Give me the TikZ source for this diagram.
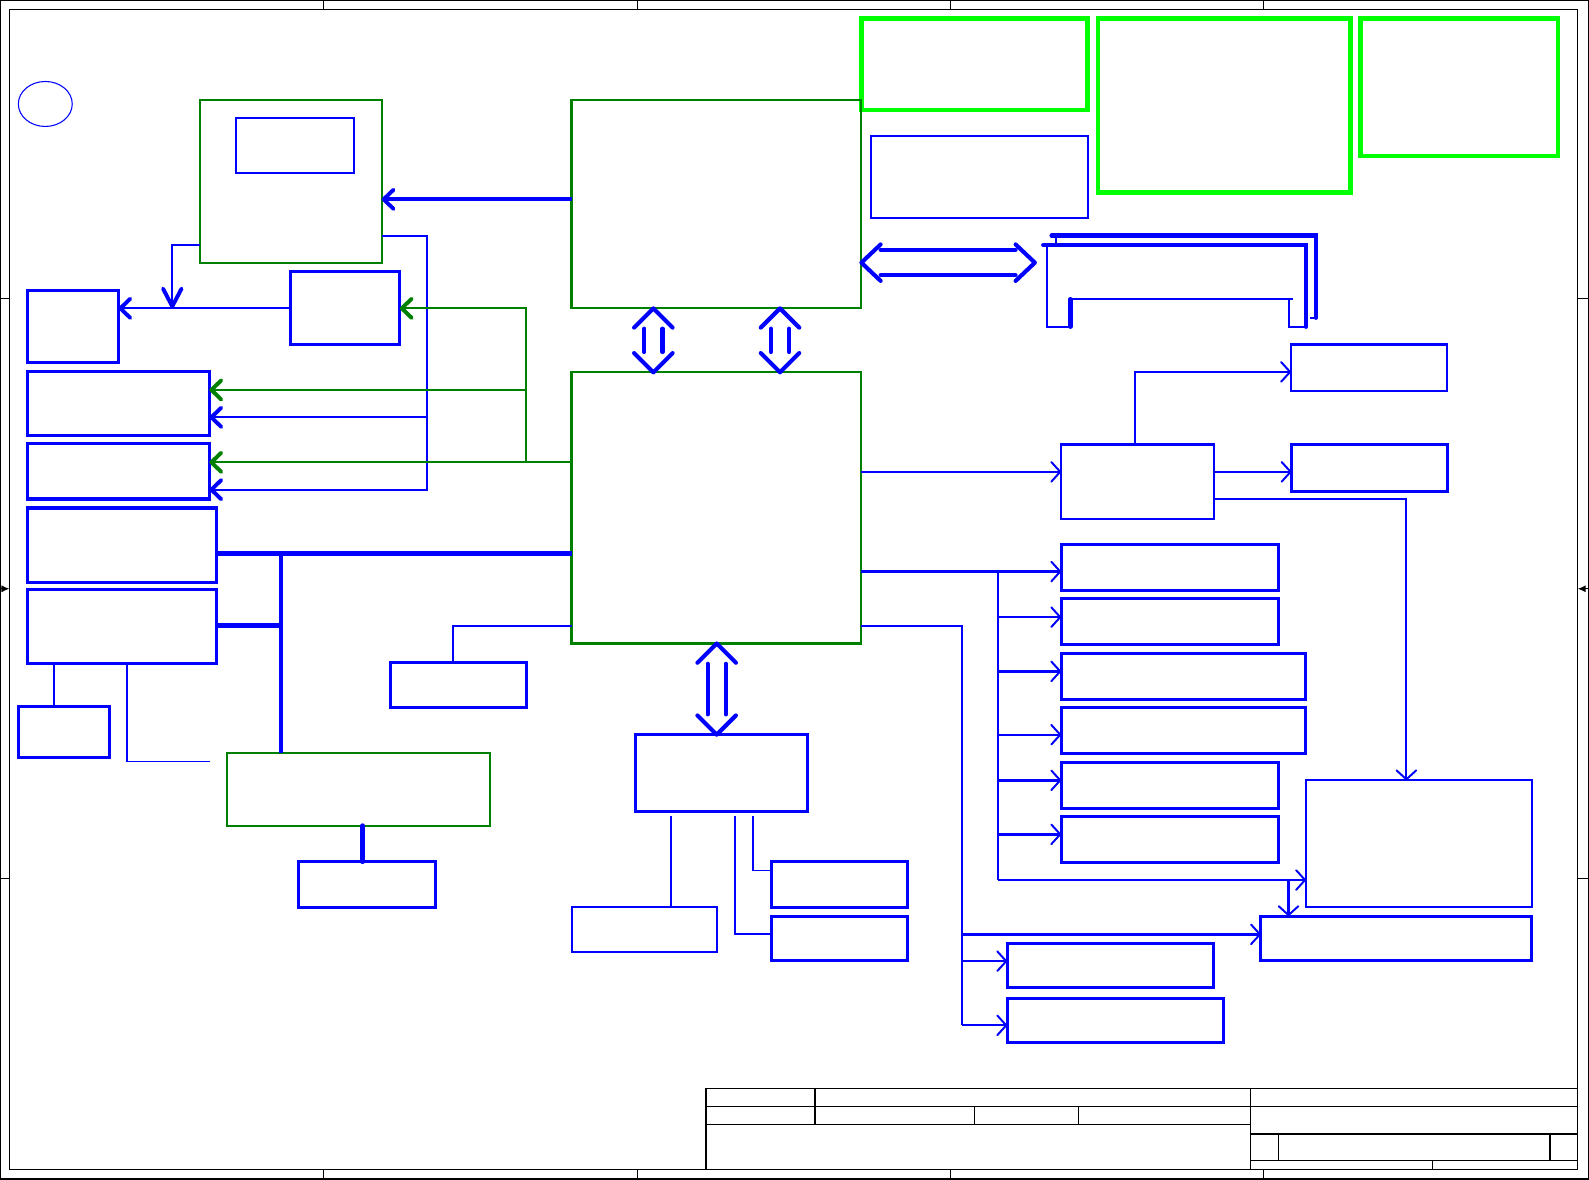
\documentclass[tikz,border=0pt]{standalone}
\usepackage{tikz}
\usetikzlibrary{arrows.meta,calc,fit}
\definecolor{netblue}{HTML}{0000FF}
\definecolor{chipgreen}{HTML}{008000}
\definecolor{notegreen}{HTML}{00FF00}

\tikzset{
  blk/.style={inner sep=0pt,outer sep=0pt},
  chip/.style={blk,draw=chipgreen,line width=0.6pt},
  note/.style={blk,draw=notegreen,line width=1.35pt},
  dev/.style={blk,draw=netblue,line width=0.85pt},
  devthin/.style={blk,draw=netblue,line width=0.6pt},
  wire/.style={netblue,line width=0.55pt},
  wirebold/.style={netblue,line width=0.85pt},
  gwire/.style={chipgreen,line width=0.6pt},
  bus/.style={netblue,line width=1.25pt},
  dbl/.style={netblue,line width=1.15pt,line cap=round,line join=round},
  frm/.style={black,line width=0.3pt},
  arw/.style={-{Straight Barb[length=2.5pt,width=5.5pt,line width=0.55pt,round]}},
  arwbig/.style={-{Straight Barb[length=2.8pt,width=5.4pt,line width=1.1pt,round]}},
  arwlong/.style={-{Straight Barb[length=5pt,width=5.2pt,line width=1.1pt,round]}},
}

% double-line bus arrows
\newcommand{\vdbl}[2]{%
  \draw[dbl] ($(#1)+(-19,19)$) -- (#1) -- ($(#1)+(19,19)$);
  \draw[dbl] ($(#2)+(-19,-19)$) -- (#2) -- ($(#2)+(19,-19)$);
  \draw[dbl] ($(#1)+(-9,20)$) -- ($(#2)+(-9,-20)$);
  \draw[dbl] ($(#1)+(9,20)$) -- ($(#2)+(9,-20)$);}
\newcommand{\hdbl}[2]{%
  \draw[dbl] ($(#1)+(19,-18)$) -- (#1) -- ($(#1)+(19,18)$);
  \draw[dbl] ($(#2)+(-19,-18)$) -- (#2) -- ($(#2)+(-19,18)$);
  \draw[dbl] ($(#1)+(19,-12.5)$) -- ($(#2)+(-19,-12.5)$);
  \draw[dbl] ($(#1)+(19,12.5)$) -- ($(#2)+(-19,12.5)$);}

\begin{document}
\begin{tikzpicture}[x=0.01cm,y=-0.01cm]
  \useasboundingbox (0,0) rectangle (1568,1164);

  % Sheet frame
  \draw[frm] (0.6,0.6) rectangle (1567.4,1163.4);
  \draw[frm] (9.2,9.2) rectangle (1557,1154.5);
  \foreach \x in {319,629,938,1247}{
    \draw[frm] (\x,0.6) -- (\x,9.2);
    \draw[frm] (\x,1154.5) -- (\x,1163.4);
  }
  \foreach \y in {295,867}{
    \draw[frm] (0.6,\y) -- (9.2,\y);
    \draw[frm] (1557,\y) -- (1567.4,\y);
  }
  \draw[frm,-{Latex[length=2.2pt,width=2pt]}] (0.6,581) -- (9.2,581);
  \draw[frm,-{Latex[length=2.2pt,width=2pt]}] (1567.4,581) -- (1557,581);

  % Title block
  \draw[frm] (696.7,1074) rectangle (1557,1154.5);
  \draw[frm] (696.7,1092) -- (1557,1092);
  \draw[frm] (696.7,1109.2) -- (1234.3,1109.2);
  \draw[frm] (804.2,1074) -- (804.2,1109.2);
  \draw[frm,line width=0.15pt] (961.5,1092) -- (961.5,1109.2);
  \draw[frm,line width=0.15pt] (1064,1092) -- (1064,1109.2);
  \draw[frm] (1234.3,1074) -- (1234.3,1154.5);
  \draw[frm] (1234.3,1119) -- (1557,1119);
  \draw[frm] (1234.3,1145.3) -- (1557,1145.3);
  \draw[frm] (1262,1119) -- (1262,1145.3);
  \draw[frm] (1529.5,1119) -- (1529.5,1145.3);
  \draw[frm] (1413.5,1145.3) -- (1413.5,1154.5);

  % Revision mark
  \draw[netblue,line width=0.3pt] (44.7,102.6) ellipse [x radius=26.6, y radius=22.2];

  % Note panels
  \node[note,fit={(850.1,18.1) (1073.1,108.5)}] (nta) {};
  \node[note,fit={(1083.5,18.1) (1332.5,190.1)}] (ntb) {};
  \node[note,fit={(1342.8,18.1) (1537.4,153.9)}] (ntc) {};

  % Main chips
  \node[chip,fit={(564,98.7) (850,304.3)}] (cpu) {};
  \node[chip,fit={(564,367.4) (850,635)}] (pch) {};
  \node[chip,fit={(197,98.3) (376.6,259.2)}] (gfx) {};
  \node[devthin,fit={(232.6,116.1) (349.3,170.4)}] (vram) {};
  \node[chip,fit={(223.7,743) (483.5,814.8)}] (ec) {};
  \node[devthin,fit={(859.5,134.2) (1074,214.8)}] (pwr) {};

  % Left side devices
  \node[dev,fit={(26.7,286.2) (116.8,357.9)}] (lcd) {};
  \node[dev,fit={(286.2,268.1) (394.5,340.4)}] (sw) {};
  \node[dev,fit={(26.7,366.8) (206.6,429.9)}] (crt) {};
  \node[dev,fit={(26.7,438.1) (206.6,492.4)}] (hdmi) {};
  \node[dev,fit={(26.7,501.3) (213.6,575)}] (lanA) {};
  \node[dev,fit={(26.7,581.5) (213.6,655.2)}] (lanB) {};
  \node[dev,fit={(17.9,697.3) (108.4,747.3)}] (rj) {};
  \node[dev,fit={(385.1,653.3) (519.5,698)}] (spi) {};
  \node[dev,fit={(295,850.3) (430,895.3)}] (kb) {};

  % Bottom middle devices
  \node[dev,fit={(627,725) (797,801)}] (hub) {};
  \node[devthin,fit={(564.4,894.7) (707.2,939.7)}] (hdd) {};
  \node[dev,fit={(761,850) (895.7,895.3)}] (usbA) {};
  \node[dev,fit={(761,904) (895.7,948)}] (usbB) {};

  % Right side devices
  \node[devthin,fit={(1047.2,438.6) (1197.8,512)}] (crd) {};
  \node[devthin,fit={(1274,340) (1428,386)}] (mcA) {};
  \node[dev,fit={(1274.5,438.6) (1428,484.9)}] (mcB) {};
  \foreach \n/\t/\r in {p1/537.3/1262,p2/590.5/1262,p3/644.9/1288.5,
                        p4/698.5/1288.5,p5/752/1262,p6/805.5/1262}{
    \node[dev,fit={(1047.2,\t) (\r,\t+45.5)}] (\n) {};
  }
  \node[devthin,fit={(1288.8,770) (1512,895.3)}] (aud) {};
  \node[dev,fit={(1244.3,904) (1511,948)}] (amp) {};
  \node[dev,fit={(993.9,930.8) (1197.8,974.3)}] (sA) {};
  \node[dev,fit={(993.9,985.2) (1207.6,1028.6)}] (sB) {};

  % Graphics links
  \draw[netblue,line width=1.1pt,arwbig] (cpu.west |- 0,196.7) -- (gfx.east |- 0,196.7);
  \draw[wire,arwbig] (gfx.east |- 0,233) -| (421,483.2) -- (hdmi.east |- 0,483.2);
  \draw[wire,arwbig] (421,411.8) -- (crt.east |- 0,411.8);
  \draw[wire,arwbig] (sw.west) -- (lcd.east |- sw.west);
  \draw[wire,arwlong] (gfx.west |- 0,241.8) -| (170,304.3);
  \draw[gwire,arwbig] (pch.west |- 0,456.2) -- (hdmi.east |- 0,456.2);
  \draw[gwire,arwbig] (519,456.2) |- (sw.east);
  \draw[gwire,arwbig] (519,384.8) -- (crt.east |- 0,384.8);

  % LPC / LAN bus
  \draw[bus] (pch.west |- 0,546) -- (lanA.east |- 0,546);
  \draw[bus] (277.5,546) -- (ec.north -| 277.5,0);
  \draw[bus] (lanB.east |- 0,617.4) -- (277.5,617.4);
  \draw[wire] (lanB.south -| 53.7,0) -- (rj.north -| 53.7,0);
  \coordinate (ecin) at (207.2,751.6);
  \draw[wire,line width=0.4pt] (lanB.south -| 125.2,0) |- (ecin);
  \draw[wire] (pch.west |- 0,617.4) -| (spi.north -| 447.2,0);
  \draw[netblue,line width=1.35pt,line cap=round] (ec.south -| 358,0) -- (kb.north -| 358,0);

  % Double-line buses
  \coordinate (mAt) at (cpu.south -| 644.7,0);
  \coordinate (mAb) at (pch.north -| 644.7,0);
  \coordinate (mBt) at (cpu.south -| 769.7,0);
  \coordinate (mBb) at (pch.north -| 769.7,0);
  \coordinate (hbt) at (pch.south -| 707.2,0);
  \coordinate (hbb) at (hub.north -| 707.2,0);
  \coordinate (memtip) at (1021.2,259.2);
  \vdbl{mAt}{mAb}
  \vdbl{mBt}{mBb}
  \vdbl{hbt}{hbb}
  \hdbl{cpu.east |- memtip}{memtip}

  % Memory sockets
  \draw[bus,line cap=round] (1037.8,232.6) -- (1298.6,232.6) -- (1298.6,313.5);
  \draw[wire] (1292.7,313.5) -- (1298.6,313.5);
  \draw[wire] (1041.7,232.6) -- (1041.7,241.8);
  \draw[bus,line cap=round] (1029.5,241.8) -- (1288.7,241.8) -- (1288.7,322.4);
  \draw[wire] (1032.8,241.8) |- (1056.3,322.4);
  \draw[bus,line cap=round] (1056.3,322.4) -- (1056.3,295.3);
  \draw[wire] (1056.3,295.3) -- (1275.6,295.3);
  \draw[wire] (1271.7,295.3) |- (1288.7,322.4);

  % Hub links
  \draw[wire,shorten <=1.1pt] (hub.south -| 662.5,0) -- (hdd.north -| 662.5,0);
  \draw[wire,shorten <=1.1pt] (hub.south -| 725.3,0) |- (usbB.west |- 0,921.7);
  \draw[wire,shorten <=1.1pt] (hub.south -| 743.4,0) |- (usbA.west |- 0,859);

  % Right side links
  \draw[wire,arw] (pch.east |- 0,465.6) -- (crd.west |- 0,465.6);
  \draw[wire,arw] (crd.north -| 1119.7,0) |- (mcA.west |- 0,367);
  \draw[wire,arw] (crd.east |- 0,465.6) -- (mcB.west |- 0,465.6);
  \draw[wire,arw] (crd.east |- 0,492.2) -| (aud.north -| 1387.8,0);
  \draw[wirebold,arw] (pch.east |- 0,564) -- (p1.west |- 0,564);
  \draw[wire] (985,564) -- (985,868.4);
  \foreach \n/\y/\w in {p2/609/wire,p3/662.5/wirebold,p4/725/wire,
                        p5/770/wirebold,p6/823.3/wirebold}{
    \draw[\w,arw] (985,\y) -- (\n.west |- 0,\y);
  }
  \draw[wire,arw] (985,868.4) -- (aud.west |- 0,868.4);
  \draw[wirebold,arw] (1271.5,868.4) -- (amp.north -| 1271.5,0);
  \draw[wire] (pch.east |- 0,617.4) -| (949,1011.8);
  \draw[wirebold,arw] (949,922) -- (amp.west |- 0,922);
  \draw[wire,arw] (949,948.5) -- (sA.west |- 0,948.5);
  \draw[wire,arw] (949,1011.8) -- (sB.west |- 0,1011.8);
\end{tikzpicture}
\end{document}
